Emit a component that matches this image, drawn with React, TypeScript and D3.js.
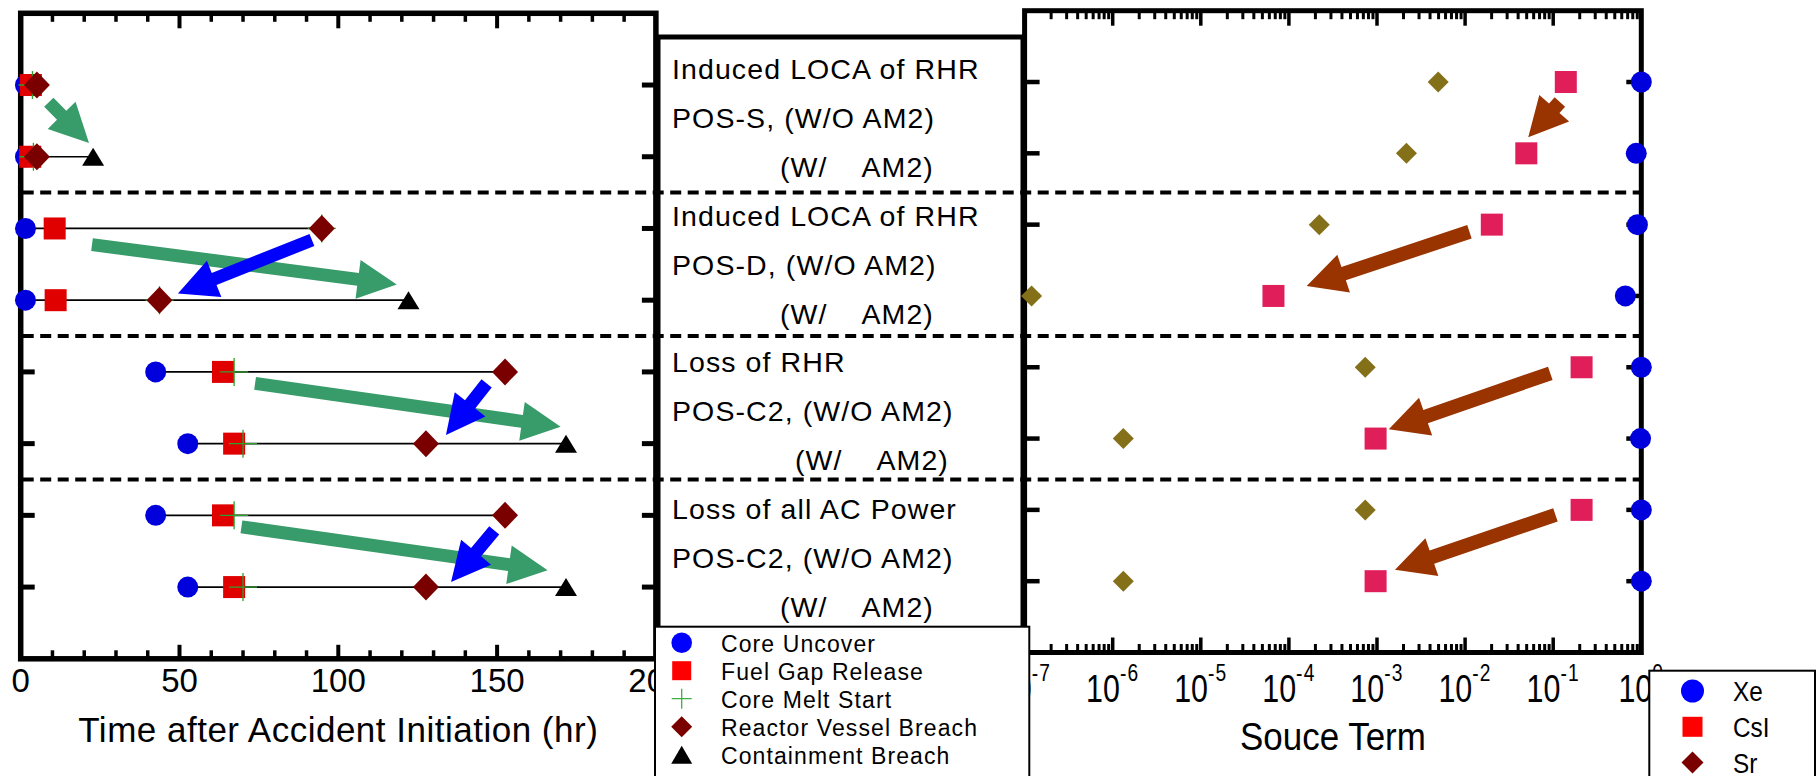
import React from "react";
import * as d3 from "d3";

const W = 1818;
const H = 776;

// case rows, top to bottom
const rows = [1, 2, 3, 4, 5, 6, 7, 8];

// event times (hr) per case row
const coreUncover = [1.5, 1.5, 1.5, 1.5, 42.5, 52.6, 42.5, 52.6];
const fuelGapRelease = [3.2, 3.0, 10.7, 11.0, 63.7, 67.2, 63.7, 67.2];
const coreMeltStart = [3.7, 4.0, 94.8, 43.7, 67.2, 70.0, 67.2, 70.0];
const vesselBreach = [5.1, 5.1, 94.8, 43.7, 152.5, 127.6, 152.5, 127.6];
const containmentBreach: (number | null)[] = [null, 22.8, null, 122.1, null, 171.7, null, 171.7];

// source term (release fraction) per case row
const xeTerm = [1.0, 0.877, 0.904, 0.659, 1.0, 0.98, 1.0, 1.0];
const csiTerm = [0.139, 0.0495, 0.0201, 6.68e-5, 0.21, 9.64e-4, 0.21, 9.64e-4];
const srTerm = [4.95e-3, 2.16e-3, 2.21e-4, 1.2e-7, 7.35e-4, 1.32e-6, 7.35e-4, 1.32e-6];

const timeTicks = [0, 50, 100, 150, 200];
const timeMinorTicks = [10, 20, 30, 40, 60, 70, 80, 90, 110, 120, 130, 140, 160, 170, 180, 190];
const decades = [-7, -6, -5, -4, -3, -2, -1, 0];
const separators = [2.5, 4.5, 6.5];

const caseLines = [
  "Induced LOCA of RHR",
  "POS-S, (W/O AM2)",
  "(W/\u00a0\u00a0\u00a0\u2009AM2)",
  "Induced LOCA of RHR",
  "POS-D, (W/O AM2)",
  "(W/\u00a0\u00a0\u00a0\u2009AM2)",
  "Loss of RHR",
  "POS-C2, (W/O AM2)",
  "(W/\u00a0\u00a0\u00a0\u2009AM2)",
  "Loss of all AC Power",
  "POS-C2, (W/O AM2)",
  "(W/\u00a0\u00a0\u00a0\u2009AM2)",
];
const indentX = [780, 780, 795, 780];

const eventLegend = ["Core Uncover", "Fuel Gap Release", "Core Melt Start", "Reactor Vessel Breach", "Containment Breach"];
const nuclideLegend = ["Xe", "CsI", "Sr"];

// arrows on the time panel: [hr, row] -> [hr, row]
const timeArrows = [
  { from: [8.85, 1.24], to: [21.5, 1.81], color: "#389b6a" },
  { from: [22.45, 3.225], to: [118.4, 3.78], color: "#389b6a" },
  { from: [73.8, 5.16], to: [170, 5.766], color: "#389b6a" },
  { from: [69.5, 7.16], to: [165.9, 7.764], color: "#389b6a" },
  { from: [91.7, 3.16], to: [49.5, 3.905], color: "#0000ff" },
  { from: [146.7, 5.16], to: [133.9, 5.88], color: "#0000ff" },
  { from: [149.1, 7.21], to: [135.5, 7.93], color: "#0000ff" },
];
// arrows on the source term panel: [fraction, row] -> [fraction, row]
const termArrows = [
  { from: [0.119, 1.28], to: [0.0521, 1.776] },
  { from: [0.0112, 3.1], to: [1.59e-4, 3.86] },
  { from: [0.0927, 5.085], to: [1.36e-3, 5.87] },
  { from: [0.106, 7.07], to: [1.6e-3, 7.84] },
];

const FONT = "'Liberation Sans', Arial, Helvetica, sans-serif";

const line = d3.line();

function arrowPath(x1: number, y1: number, x2: number, y2: number, shaft: number, headW: number, headL: number) {
  const dx = x2 - x1;
  const dy = y2 - y1;
  const len = Math.hypot(dx, dy);
  const ux = dx / len;
  const uy = dy / len;
  const px = -uy;
  const py = ux;
  const bl = Math.max(len - headL, 0);
  const bx = x1 + ux * bl;
  const by = y1 + uy * bl;
  const pts: [number, number][] = [
    [x1 + (px * shaft) / 2, y1 + (py * shaft) / 2],
    [bx + (px * shaft) / 2, by + (py * shaft) / 2],
    [bx + (px * headW) / 2, by + (py * headW) / 2],
    [x2, y2],
    [bx - (px * headW) / 2, by - (py * headW) / 2],
    [bx - (px * shaft) / 2, by - (py * shaft) / 2],
    [x1 - (px * shaft) / 2, y1 - (py * shaft) / 2],
  ];
  return line(pts) + "Z";
}

const diamondPath = (x: number, y: number, w: number, h: number) =>
  `M${x},${y - h / 2}L${x + w / 2},${y}L${x},${y + h / 2}L${x - w / 2},${y}Z`;
const trianglePath = (x: number, y: number, w: number, h: number) =>
  `M${x},${y - h / 2}L${x + w / 2},${y + h / 2}L${x - w / 2},${y + h / 2}Z`;

export default function App() {
  const xT = d3.scaleLinear().domain([0, 200]).range([20.7, 655.9]);
  const yT = d3.scaleLinear().domain([0, 9]).range([13.3, 658.8]);
  const xS = d3.scaleLog().domain([1e-7, 1]).range([1024.6, 1641.3]);
  const yS = d3.scaleLinear().domain([0, 9]).range([10.7, 652.5]);
  const yLine = d3.scaleLinear().domain([0, 11]).range([79, 617]);

  const logMinor: number[] = [];
  decades.slice(0, -1).forEach((d) => {
    for (let m = 2; m <= 9; m++) logMinor.push(m * Math.pow(10, d));
  });

  const [tl, tr] = xT.range();
  const [tt, tb] = yT.range();
  const [sl, sr] = xS.range();
  const [st, sb] = yS.range();

  return (
    <svg width={W} height={H} style={{ position: "absolute", left: 0, top: 0, background: "#fff" }} fontFamily={FONT}>
      <rect width={W} height={H} fill="#fff" />

      {/* ---------- left panel: time ---------- */}
      {timeMinorTicks.map((t) => (
        <g key={"tm" + t} stroke="#000" strokeWidth={3.5}>
          <line x1={xT(t)} x2={xT(t)} y1={tt} y2={tt + 8.5} />
          <line x1={xT(t)} x2={xT(t)} y1={tb} y2={tb - 8.5} />
        </g>
      ))}
      {timeTicks.map((t) => (
        <g key={"tM" + t} stroke="#000" strokeWidth={4}>
          <line x1={xT(t)} x2={xT(t)} y1={tt} y2={tt + 15} />
          <line x1={xT(t)} x2={xT(t)} y1={tb} y2={tb - 14} />
        </g>
      ))}
      {rows.map((r) => (
        <g key={"tr" + r} stroke="#000" strokeWidth={5}>
          <line x1={tl} x2={tl + 14} y1={yT(r)} y2={yT(r)} />
          <line x1={tr} x2={tr - 14} y1={yT(r)} y2={yT(r)} />
        </g>
      ))}
      <rect x={tl} y={tt} width={tr - tl} height={tb - tt} fill="none" stroke="#000" strokeWidth={5.5} />

      {/* ---------- middle: case labels box ---------- */}
      <path d={`M658,800V37H1023V800`} fill="none" stroke="#000" strokeWidth={5} />
      {caseLines.map((s, i) => (
        <text
          key={"cl" + i}
          x={i % 3 === 2 ? indentX[Math.floor(i / 3)] : 672}
          y={yLine(i)}
          fontSize={28.5}
          letterSpacing={1.1}
          fill="#000"
        >
          {s}
        </text>
      ))}

      {/* ---------- right panel: source term ---------- */}
      {logMinor.map((v, i) => (
        <g key={"sm" + i} stroke="#000" strokeWidth={3}>
          <line x1={xS(v)} x2={xS(v)} y1={st} y2={st + 8.5} />
          <line x1={xS(v)} x2={xS(v)} y1={sb} y2={sb - 8.5} />
        </g>
      ))}
      {decades.map((d) => (
        <g key={"sM" + d} stroke="#000" strokeWidth={3.5}>
          <line x1={xS(Math.pow(10, d))} x2={xS(Math.pow(10, d))} y1={st} y2={st + 15} />
          <line x1={xS(Math.pow(10, d))} x2={xS(Math.pow(10, d))} y1={sb} y2={sb - 15} />
        </g>
      ))}
      {rows.map((r) => (
        <g key={"sr" + r} stroke="#000" strokeWidth={4.5}>
          <line x1={sl} x2={sl + 15} y1={yS(r)} y2={yS(r)} />
          <line x1={sr} x2={sr - 15} y1={yS(r)} y2={yS(r)} />
        </g>
      ))}
      <rect x={sl} y={st} width={sr - sl} height={sb - st} fill="none" stroke="#000" strokeWidth={5} />

      {/* separators across all panels */}
      {separators.map((s) => (
        <line
          key={"sep" + s}
          x1={tl + 2}
          x2={sr}
          y1={yT(s)}
          y2={yT(s)}
          stroke="#000"
          strokeWidth={4}
          strokeDasharray="11,6.5"
        />
      ))}

      {/* time panel marks */}
      {rows.map((r, i) => {
        const y = yT(r);
        const end = containmentBreach[i] ?? vesselBreach[i];
        const cb = containmentBreach[i];
        return (
          <g key={"ev" + r}>
            <line x1={xT(coreUncover[i])} x2={xT(end)} y1={y} y2={y} stroke="#000" strokeWidth={1.7} />
            <circle cx={xT(coreUncover[i])} cy={y} r={10.5} fill="#0000dc" />
            <rect x={xT(fuelGapRelease[i]) - 11} y={y - 11} width={22} height={22} fill="#e00000" />
            <path
              d={`M${xT(coreMeltStart[i]) - 14},${y}H${xT(coreMeltStart[i]) + 14}M${xT(coreMeltStart[i])},${y - 14}V${y + 14}`}
              stroke="#2ca02c"
              strokeWidth={1.3}
            />
            <path d={diamondPath(xT(vesselBreach[i]), y, 26, 27)} fill="#7a0000" />
            {cb !== null && <path d={trianglePath(xT(cb), y, 22, 18)} fill="#000" />}
          </g>
        );
      })}
      {timeArrows.map((a, i) => (
        <path
          key={"ta" + i}
          d={arrowPath(xT(a.from[0]), yT(a.from[1]), xT(a.to[0]), yT(a.to[1]), 13, 39, 39)}
          fill={a.color}
        />
      ))}

      {/* source term marks */}
      {rows.map((r, i) => {
        const y = yS(r);
        return (
          <g key={"st" + r}>
            <path d={diamondPath(xS(srTerm[i]), y, 21, 21)} fill="#85701a" />
            <rect x={xS(csiTerm[i]) - 11} y={y - 11} width={22} height={22} fill="#e01e5a" />
            <circle cx={xS(xeTerm[i])} cy={y} r={10.5} fill="#0000dc" />
          </g>
        );
      })}
      {termArrows.map((a, i) => (
        <path
          key={"sa" + i}
          d={arrowPath(xS(a.from[0]), yS(a.from[1]), xS(a.to[0]), yS(a.to[1]), 14, 40, 39)}
          fill="#993300"
        />
      ))}

      {/* axis tick labels */}
      {timeTicks.map((t) => (
        <text key={"tl" + t} x={xT(t)} y={691.7} fontSize={33} textAnchor="middle" fill="#000">
          {t}
        </text>
      ))}
      <text x={(tl + tr) / 2} y={741.7} fontSize={35} letterSpacing={0.5} textAnchor="middle" fill="#000">
        Time after Accident Initiation (hr)
      </text>
      {decades.map((d) => (
        <text
          key={"dl" + d}
          transform={`translate(${xS(Math.pow(10, d))},701.7) scale(0.8,1)`}
          fontSize={38}
          textAnchor="middle"
          fill="#000"
        >
          10
          <tspan dy={-21} fontSize={24} letterSpacing={1.5}>
            {d}
          </tspan>
        </text>
      ))}
      <text
        transform={`translate(${(sl + sr) / 2},750) scale(0.92,1)`}
        fontSize={38}
        textAnchor="middle"
        fill="#000"
      >
        Souce Term
      </text>

      {/* event legend */}
      <rect x={655} y={626.7} width={374.3} height={200} fill="#fff" stroke="#000" strokeWidth={2} />
      {eventLegend.map((s, i) => {
        const y = 642.7 + 28 * i;
        const x = 681.7;
        return (
          <g key={"el" + i}>
            {i === 0 && <circle cx={x} cy={y} r={10.3} fill="#0000ff" />}
            {i === 1 && <rect x={x - 9.5} y={y - 9.5} width={19} height={19} fill="#ff0000" />}
            {i === 2 && <path d={`M${x - 10},${y}H${x + 10}M${x},${y - 10}V${y + 10}`} stroke="#3cb043" strokeWidth={1.3} />}
            {i === 3 && <path d={diamondPath(x, y, 21, 21)} fill="#7a0000" />}
            {i === 4 && <path d={trianglePath(x, y, 21, 18)} fill="#000" />}
            <text x={721} y={y + 9} fontSize={23} letterSpacing={1.1} fill="#000">
              {s}
            </text>
          </g>
        );
      })}

      {/* nuclide legend */}
      <rect x={1649.3} y={670.7} width={165.7} height={200} fill="#fff" stroke="#000" strokeWidth={2} />
      {nuclideLegend.map((s, i) => {
        const y = 691 + 35.8 * i;
        const x = 1692.5;
        return (
          <g key={"nl" + i}>
            {i === 0 && <circle cx={x} cy={y} r={11.5} fill="#0000ff" />}
            {i === 1 && <rect x={x - 10} y={y - 10} width={20} height={20} fill="#ff0000" />}
            {i === 2 && <path d={diamondPath(x, y, 22, 22)} fill="#7a0000" />}
            <text transform={`translate(1733,${y + 10}) scale(0.9,1)`} fontSize={27} fill="#000">
              {s}
            </text>
          </g>
        );
      })}
    </svg>
  );
}
